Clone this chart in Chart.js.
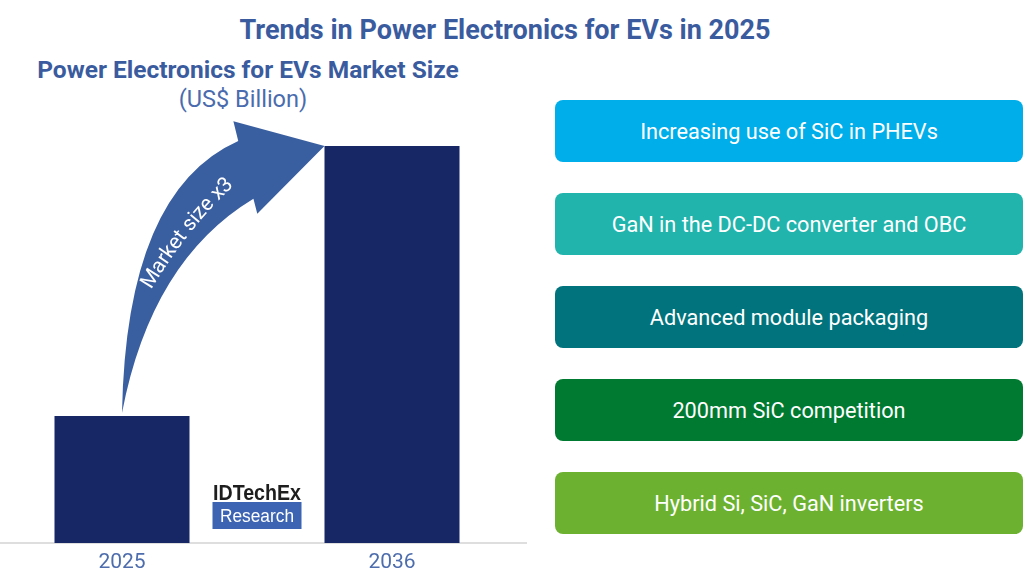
<!DOCTYPE html>
<html>
<head>
<meta charset="utf-8">
<script src="https://cdn.jsdelivr.net/npm/chart.js@4.4.1/dist/chart.umd.min.js"></script>
<style>
  html, body { margin:0; padding:0; width:1030px; height:568px; overflow:hidden; background:#ffffff; font-family: Roboto, "Noto Sans", sans-serif; }
  #title { position:absolute; left:0; width:1010px; top:17px; text-align:center; font-weight:700; font-size:27px; line-height:27px; color:#3a5c9f; white-space:nowrap; }
  #subtitle { position:absolute; left:0; width:496px; top:58px; text-align:center; font-weight:700; font-size:24.5px; line-height:24.5px; color:#3a5c9f; white-space:nowrap; }
  #unit { position:absolute; left:0; width:486px; top:88px; text-align:center; font-weight:400; font-size:23.5px; line-height:23.5px; color:#4a6cae; white-space:nowrap; }
  #chartWrap { position:absolute; left:-13px; top:0; width:540px; height:568px; }
  #trends { position:absolute; left:555px; top:0; width:468px; height:568px; }
  .trend { position:absolute; left:0; width:468px; height:62px; border-radius:8px; color:#ffffff; font-size:21.7px; display:flex; align-items:center; justify-content:center; white-space:nowrap; }
</style>
</head>
<body>
<div id="title"></div>
<div id="subtitle"></div>
<div id="unit"></div>
<div id="chartWrap"><canvas id="c" width="540" height="568"></canvas></div>
<div id="trends"></div>
<script>
// ---- Data ----
const chartTitle = 'Trends in Power Electronics for EVs in 2025';
const chartSubtitle = 'Power Electronics for EVs Market Size';
const unitLabel = '(US$ Billion)';
const years = ['2025', '2036'];
const marketSize = [12.8, 40];
const growthLabel = 'Market size x3';
const trendLabels = [
  'Increasing use of SiC in PHEVs',
  'GaN in the DC-DC converter and OBC',
  'Advanced module packaging',
  '200mm SiC competition',
  'Hybrid Si, SiC, GaN inverters'
];
const trendColors = ['#00aee9', '#20b4ac', '#00737c', '#007a31', '#6cb230'];
const logoTop = 'IDTechEx';
const logoBottom = 'Research';

// ---- Text blocks ----
document.getElementById('title').textContent = chartTitle;
document.getElementById('subtitle').textContent = chartSubtitle;
document.getElementById('unit').textContent = unitLabel;
const trendsEl = document.getElementById('trends');
trendLabels.forEach((t, i) => {
  const d = document.createElement('div');
  d.className = 'trend';
  d.style.top = (100 + i * 93) + 'px';
  d.style.background = trendColors[i];
  d.textContent = t;
  trendsEl.appendChild(d);
});

// ---- Arrow + logo plugin ----
const arrowPlugin = {
  id: 'growthArrow',
  afterDatasetsDraw(chart) {
    const ctx = chart.ctx;
    const bars = chart.getDatasetMeta(0).data;
    const b0 = bars[0], b1 = bars[1];
    const tail = { x: b0.x, y: b0.y - 3 };
    const tip = { x: b1.x - b1.width / 2, y: b1.y };
    const dx = tip.x - tail.x, dy = tip.y - tail.y;
    const P = (f, g) => ({ x: tail.x + f * dx, y: tail.y + g * dy });

    const oc = P(0.02, 0.832), oe = P(0.574, 1.019), ub = P(0.55, 1.093);
    const lb = P(0.668, 0.746), ib = P(0.649, 0.802), ic = P(0.144, 0.571);
    ctx.save();
    ctx.beginPath();
    ctx.moveTo(tail.x, tail.y);
    ctx.quadraticCurveTo(oc.x, oc.y, oe.x, oe.y);
    ctx.lineTo(ub.x, ub.y);
    ctx.lineTo(tip.x, tip.y);
    ctx.lineTo(lb.x, lb.y);
    ctx.lineTo(ib.x, ib.y);
    ctx.quadraticCurveTo(ic.x, ic.y, tail.x, tail.y);
    ctx.closePath();
    ctx.fillStyle = '#3a5fa1';
    ctx.fill();

    // text along curve
    const S = P(0.099, 0.455), C = P(0.304, 0.718), E = P(0.55, 0.884);
    const N = 400;
    const pts = [];
    let len = 0;
    for (let i = 0; i <= N; i++) {
      const t = i / N, u = 1 - t;
      const x = u*u*S.x + 2*u*t*C.x + t*t*E.x;
      const y = u*u*S.y + 2*u*t*C.y + t*t*E.y;
      const tx = 2*u*(C.x - S.x) + 2*t*(E.x - C.x);
      const ty = 2*u*(C.y - S.y) + 2*t*(E.y - C.y);
      if (i > 0) len += Math.hypot(x - pts[i-1].x, y - pts[i-1].y);
      pts.push({ x, y, a: Math.atan2(ty, tx), s: len });
    }
    ctx.font = '21px Roboto';
    ctx.fillStyle = '#ffffff';
    ctx.textAlign = 'center';
    ctx.textBaseline = 'middle';
    const w = ctx.measureText(growthLabel).width;
    let s = (len - w) / 2;
    for (const ch of growthLabel) {
      const cw = ctx.measureText(ch).width;
      const target = s + cw / 2;
      let p = pts[pts.length - 1];
      for (const q of pts) { if (q.s >= target) { p = q; break; } }
      ctx.save();
      ctx.translate(p.x, p.y);
      ctx.rotate(p.a);
      ctx.fillText(ch, 0, 1.5);
      ctx.restore();
      s += cw;
    }

    // logo between bars
    const cx = ((b0.x + b0.width / 2) + (b1.x - b1.width / 2)) / 2;
    const base = chart.chartArea.bottom;
    ctx.fillStyle = '#1e1e1e';
    ctx.font = '600 22px "Liberation Sans", Arial, sans-serif';
    ctx.textAlign = 'center';
    ctx.textBaseline = 'alphabetic';
    ctx.fillText(logoTop, cx, base - 43, 88);
    ctx.fillStyle = '#3c64b2';
    ctx.fillRect(cx - 44.5, base - 41, 89, 27);
    ctx.fillStyle = '#ffffff';
    ctx.font = '18px "Liberation Sans", Arial, sans-serif';
    ctx.fillText(logoBottom, cx, base - 21.5, 74);
    ctx.restore();
  }
};

new Chart(document.getElementById('c'), {
  type: 'bar',
  data: {
    labels: years,
    datasets: [{
      data: marketSize,
      backgroundColor: '#172664',
      borderWidth: 0,
      barPercentage: 0.5,
      categoryPercentage: 1.0
    }]
  },
  options: {
    responsive: false,
    animation: false,
    events: [],
    layout: { padding: { top: 146, left: 0, right: 0, bottom: 0 } },
    plugins: { legend: { display: false }, title: { display: false }, tooltip: { enabled: false } },
    scales: {
      x: {
        offset: true,
        grid: { display: true, color: 'rgba(0,0,0,0)', drawTicks: false },
        border: { display: true, color: '#dedede', width: 2 },
        ticks: { color: '#4d6dad', font: { family: 'Roboto', size: 21 }, padding: 7 },
        afterFit(scale) { scale.height = 25; }
      },
      y: {
        display: false,
        min: 0,
        max: 40
      }
    }
  },
  plugins: [arrowPlugin]
});
</script>
</body>
</html>
